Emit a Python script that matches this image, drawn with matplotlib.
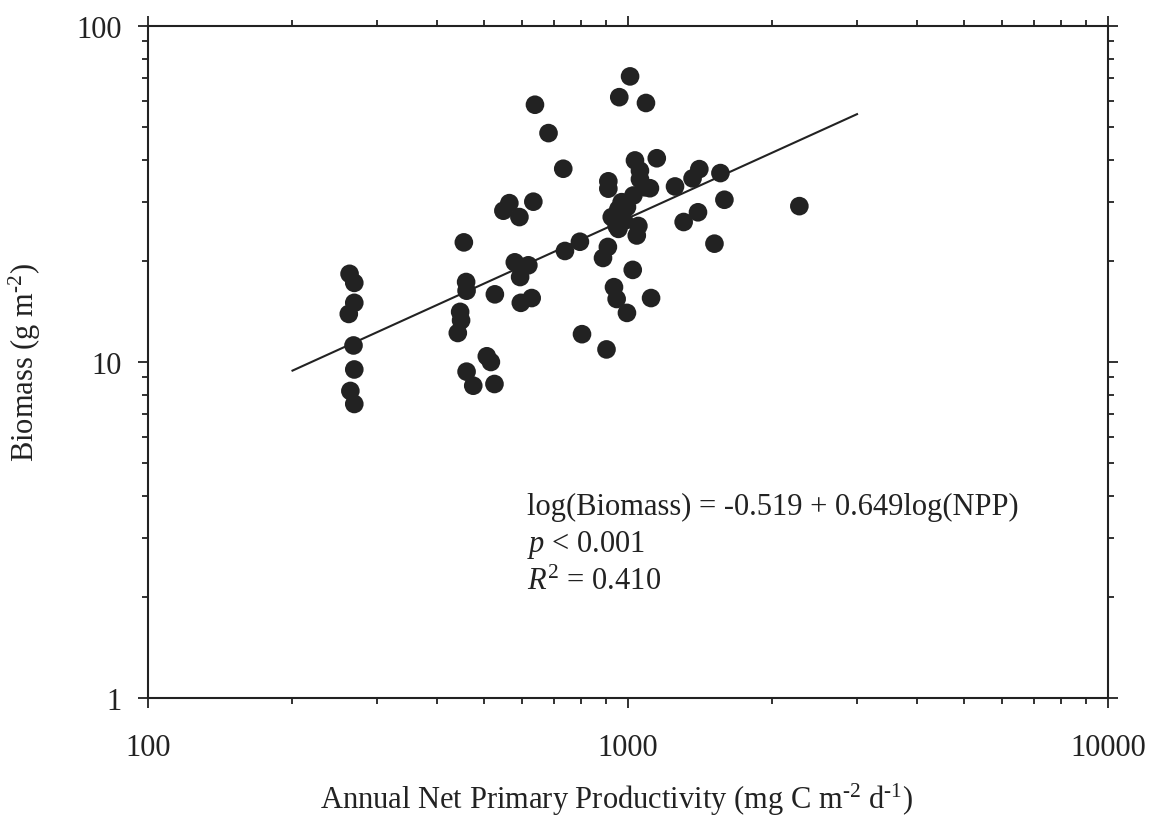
import numpy as np
import matplotlib
matplotlib.use('Agg')
import matplotlib.pyplot as plt
from matplotlib.ticker import LogLocator, NullFormatter, FixedLocator, FixedFormatter

plt.rcParams['font.family'] = ['Liberation Serif', 'DejaVu Serif']
plt.rcParams['mathtext.fontset'] = 'custom'
plt.rcParams['mathtext.rm'] = 'Liberation Serif'
plt.rcParams['mathtext.it'] = 'Liberation Serif:italic'

# annual NPP (mg C m-2 d-1) and biomass (g m-2)
npp = [263, 269, 269, 262, 268, 269, 264, 269,
       455, 460, 461, 447, 449, 442, 508, 518, 461, 476, 527, 528,
       566, 550, 594, 635, 581, 620, 596, 598, 630,
       640, 683, 733, 739, 794, 802, 902, 910, 910, 908, 887,
       1023, 935, 947, 995, 1117,
       1010, 959, 1090,
       1034, 1148, 1059, 1085, 1111, 1026, 970, 955, 925, 947, 1051, 1043, 955,
       1059, 995, 981,
       1253, 1363, 1408, 1558, 1588, 1306, 1399, 1514, 2275]
biomass = [18.3, 17.2, 15.0, 13.9, 11.2, 9.5, 8.2, 7.5,
           22.7, 17.3, 16.3, 14.1, 13.3, 12.2, 10.4, 10.0, 9.36, 8.5, 8.6, 15.9,
           29.7, 28.2, 27.0, 30.0, 19.8, 19.4, 17.9, 15.0, 15.5,
           58.3, 48.0, 37.6, 21.4, 22.8, 12.1, 10.9, 34.5, 32.8, 22.0, 20.4,
           18.8, 16.7, 15.4, 14.0, 15.5,
           70.8, 61.4, 59.0,
           39.8, 40.4, 37.1, 33.1, 32.9, 31.3, 29.9, 28.5, 27.0, 25.4, 25.4, 23.8, 24.9,
           35.0, 28.9, 26.3,
           33.3, 35.2, 37.5, 36.5, 30.4, 26.1, 27.9, 22.5, 29.1]

# regression: log(Biomass) = -0.519 + 0.649 log(NPP)
intercept = -0.519
slope = 0.649
fit_x = np.array([200, 3000])
fit_y = 10 ** (intercept + slope * np.log10(fit_x))

fig = plt.figure(figsize=(11.51, 8.20), dpi=100)
ax = fig.add_axes([148/1151, 1-699/820, 960/1151, 672/820])

ax.scatter(npp, biomass, s=180, color='#222222', edgecolors='none', zorder=3)
ax.plot(fit_x, fit_y, color='#222222', lw=1.5, zorder=2)

ax.set_xscale('log')
ax.set_yscale('log')
ax.set_xlim(100, 10000)
ax.set_ylim(1, 100)

ax.xaxis.set_major_locator(FixedLocator([100, 1000, 10000]))
ax.xaxis.set_major_formatter(FixedFormatter(['100', '1000', '10000']))
ax.yaxis.set_major_locator(FixedLocator([1, 10, 100]))
ax.yaxis.set_major_formatter(FixedFormatter(['1', '10', '100']))
ax.xaxis.set_minor_locator(LogLocator(base=10, subs=np.arange(2, 10)))
ax.yaxis.set_minor_locator(LogLocator(base=10, subs=np.arange(2, 10)))
ax.xaxis.set_minor_formatter(NullFormatter())
ax.yaxis.set_minor_formatter(NullFormatter())

ax.tick_params(which='both', direction='out', top=True, right=True,
               color='#222222', width=1.3, labelsize=22, labelcolor='#222222')
ax.tick_params(which='major', length=7)
ax.tick_params(which='minor', length=4)
ax.tick_params(axis='x', which='major', pad=18)
ax.tick_params(axis='y', which='major', pad=12)
for sp in ax.spines.values():
    sp.set_linewidth(1.5)
    sp.set_color('#222222')

ax.set_xlabel(r'Annual Net Primary Productivity (mg C m$^{\text{-2}}$ d$^{\text{-1}}$)',
              fontsize=22, color='#222222')
ax.set_ylabel(r'Biomass (g m$^{\text{-2}}$)', fontsize=22, color='#222222')
ax.xaxis.set_label_coords((617 - 148) / 960, (699 - 800) / 672)
ax.yaxis.set_label_coords((25 - 148) / 960, 0.5)
ax.xaxis.label.set_va('center')
ax.yaxis.label.set_va('center')

ax.text(527/1151, 1-507/820, 'log(Biomass) = -0.519 + 0.649log(NPP)',
        transform=fig.transFigure, fontsize=22, color='#222222', va='center')
ax.text(527/1151, 1-545/820, '$p$ < 0.001',
        transform=fig.transFigure, fontsize=22, color='#222222', va='center')
ax.text(527/1151, 1-582/820, '$R^2$ = 0.410',
        transform=fig.transFigure, fontsize=22, color='#222222', va='center')

fig.savefig('out.png', dpi=100)
